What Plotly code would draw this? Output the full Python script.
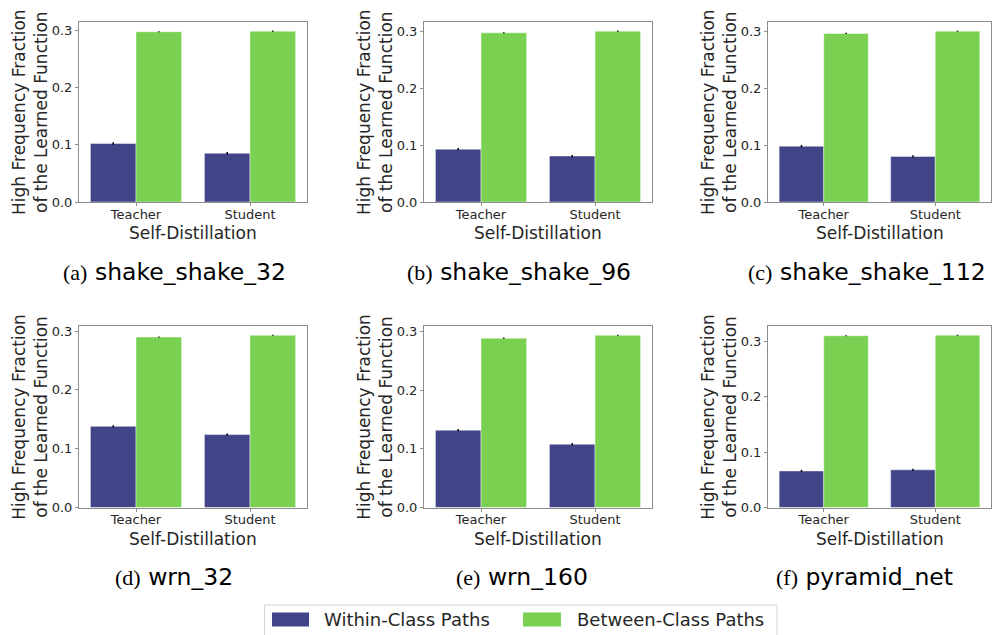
import plotly.graph_objects as go
from plotly.subplots import make_subplots

categories = ["Teacher", "Student"]
panel_names = ["shake_shake_32", "shake_shake_96", "shake_shake_112",
               "wrn_32", "wrn_160", "pyramid_net"]
panel_letters = ["(a)", "(b)", "(c)", "(d)", "(e)", "(f)"]
series_names = ["Within-Class Paths", "Between-Class Paths"]

within_vals = [
    [0.102, 0.085],
    [0.093, 0.081],
    [0.098, 0.080],
    [0.138, 0.124],
    [0.132, 0.108],
    [0.066, 0.068],
]
between_vals = [
    [0.297, 0.298],
    [0.298, 0.301],
    [0.296, 0.300],
    [0.290, 0.293],
    [0.289, 0.294],
    [0.310, 0.311],
]
within_err = [
    [0.002, 0.002],
    [0.002, 0.002],
    [0.002, 0.002],
    [0.002, 0.002],
    [0.002, 0.002],
    [0.002, 0.002],
]
between_err = [
    [0.001, 0.001],
    [0.001, 0.001],
    [0.001, 0.001],
    [0.001, 0.001],
    [0.001, 0.001],
    [0.001, 0.001],
]

W, H = 992, 635
BLUE = "#414487"
GREEN = "#7ad151"
TXT = "#262626"
SPINE = "#8c8c8c"


def px_x(p):
    return p / W


def px_y(p):
    return 1 - p / H


# pixel layout of plot areas
col_px = [(79, 307), (424, 652), (768, 991)]
row_px = [(22, 202), (326, 507.5)]
caption_cx = [174, 519, 867, 174, 522, 864]
caption_cy = [272, 272, 272, 577, 577, 577]

fig = make_subplots(rows=2, cols=3)

for i in range(6):
    r, c = i // 3, i % 3
    fig.add_trace(go.Bar(
        x=categories, y=within_vals[i], name=series_names[0],
        marker=dict(color=BLUE, line=dict(color="rgba(255,255,255,0.55)", width=0.8)),
        error_y=dict(type="data", array=within_err[i], color="black", thickness=1.5, width=0),
        showlegend=False,
    ), row=r + 1, col=c + 1)
    fig.add_trace(go.Bar(
        x=categories, y=between_vals[i], name=series_names[1],
        marker=dict(color=GREEN, line=dict(color="rgba(255,255,255,0.55)", width=0.8)),
        error_y=dict(type="data", array=between_err[i], color="black", thickness=1.5, width=0),
        showlegend=False,
    ), row=r + 1, col=c + 1)

    ymax = max(max(a + e for a, e in zip(within_vals[i], within_err[i])),
               max(a + e for a, e in zip(between_vals[i], between_err[i]))) * 1.05
    x0, x1 = col_px[c]
    y0, y1 = row_px[r]
    axn = i + 1
    xa = "xaxis" if axn == 1 else f"xaxis{axn}"
    ya = "yaxis" if axn == 1 else f"yaxis{axn}"
    fig.layout[xa].update(
        domain=[px_x(x0), min(1.0, px_x(x1))], showline=True, mirror=True,
        linecolor=SPINE, linewidth=1, automargin=False,
        ticks="outside", ticklen=3, tickcolor=SPINE, showgrid=False,
        ticklabelstandoff=-3,
        tickfont=dict(family="DejaVu Sans", size=13, color=TXT), range=[-0.5, 1.5],
    )
    fig.layout[ya].update(
        domain=[px_y(y1), px_y(y0)], showline=True, mirror=True,
        linecolor=SPINE, linewidth=1, automargin=False,
        ticks="outside", ticklen=3, tickcolor=SPINE, showgrid=False, zeroline=False,
        tickfont=dict(family="DejaVu Sans", size=13, color=TXT), range=[0, ymax],
        tickvals=[0.0, 0.1, 0.2, 0.3], ticktext=["0.0", "0.1", "0.2", "0.3"],
    )
    xref = "x domain" if axn == 1 else f"x{axn} domain"
    yref = "y domain" if axn == 1 else f"y{axn} domain"
    # y-axis title
    fig.add_annotation(
        text="High Frequency Fraction<br>of the Learned Function",
        xref=xref, yref=yref, x=0, y=0.5, xanchor="center", yanchor="middle",
        xshift=-49, textangle=-90, showarrow=False,
        font=dict(family="DejaVu Sans", size=17, color=TXT),
    )
    # x-axis title
    fig.add_annotation(
        text="Self-Distillation", xref=xref, yref=yref, x=0.5, y=0,
        xanchor="center", yanchor="middle", yshift=-31, showarrow=False,
        font=dict(family="DejaVu Sans", size=17, color=TXT),
    )
    # caption
    fig.add_annotation(
        text=f"<span style='font-family:Liberation Serif;font-size:22px'>{panel_letters[i]}</span> {panel_names[i]}",
        xref="paper", yref="paper", x=px_x(caption_cx[i]), y=px_y(caption_cy[i]),
        xanchor="center", yanchor="middle", showarrow=False,
        font=dict(family="DejaVu Sans", size=23.5, color="black"),
    )

# legend (drawn as a framed box with swatches)
fig.add_shape(type="rect", xref="paper", yref="paper",
              x0=px_x(264.5), x1=px_x(777), y0=px_y(645), y1=px_y(605),
              line=dict(color="#d5d5d5", width=1), fillcolor="white", layer="above")
swatches = [(272, 309, BLUE, 322), (523, 561, GREEN, 575)]
for (sx0, sx1, col, tx), name in zip(swatches, series_names):
    fig.add_shape(type="rect", xref="paper", yref="paper",
                  x0=px_x(sx0), x1=px_x(sx1), y0=px_y(626.5), y1=px_y(612.5),
                  line=dict(width=0), fillcolor=col, layer="above")
    fig.add_annotation(text=name, xref="paper", yref="paper",
                       x=px_x(tx), y=px_y(619.5), xanchor="left", yanchor="middle",
                       showarrow=False,
                       font=dict(family="DejaVu Sans", size=18, color=TXT))

fig.update_layout(
    width=W, height=H, margin=dict(l=0, r=0, t=0, b=0, autoexpand=False),
    plot_bgcolor="white", paper_bgcolor="white",
    barmode="group", bargap=0.2, bargroupgap=0,
    showlegend=False,
)

fig.write_html("out.html", config={"displayModeBar": False},
               post_script="document.body.style.margin='0';document.body.style.overflow='hidden';")
